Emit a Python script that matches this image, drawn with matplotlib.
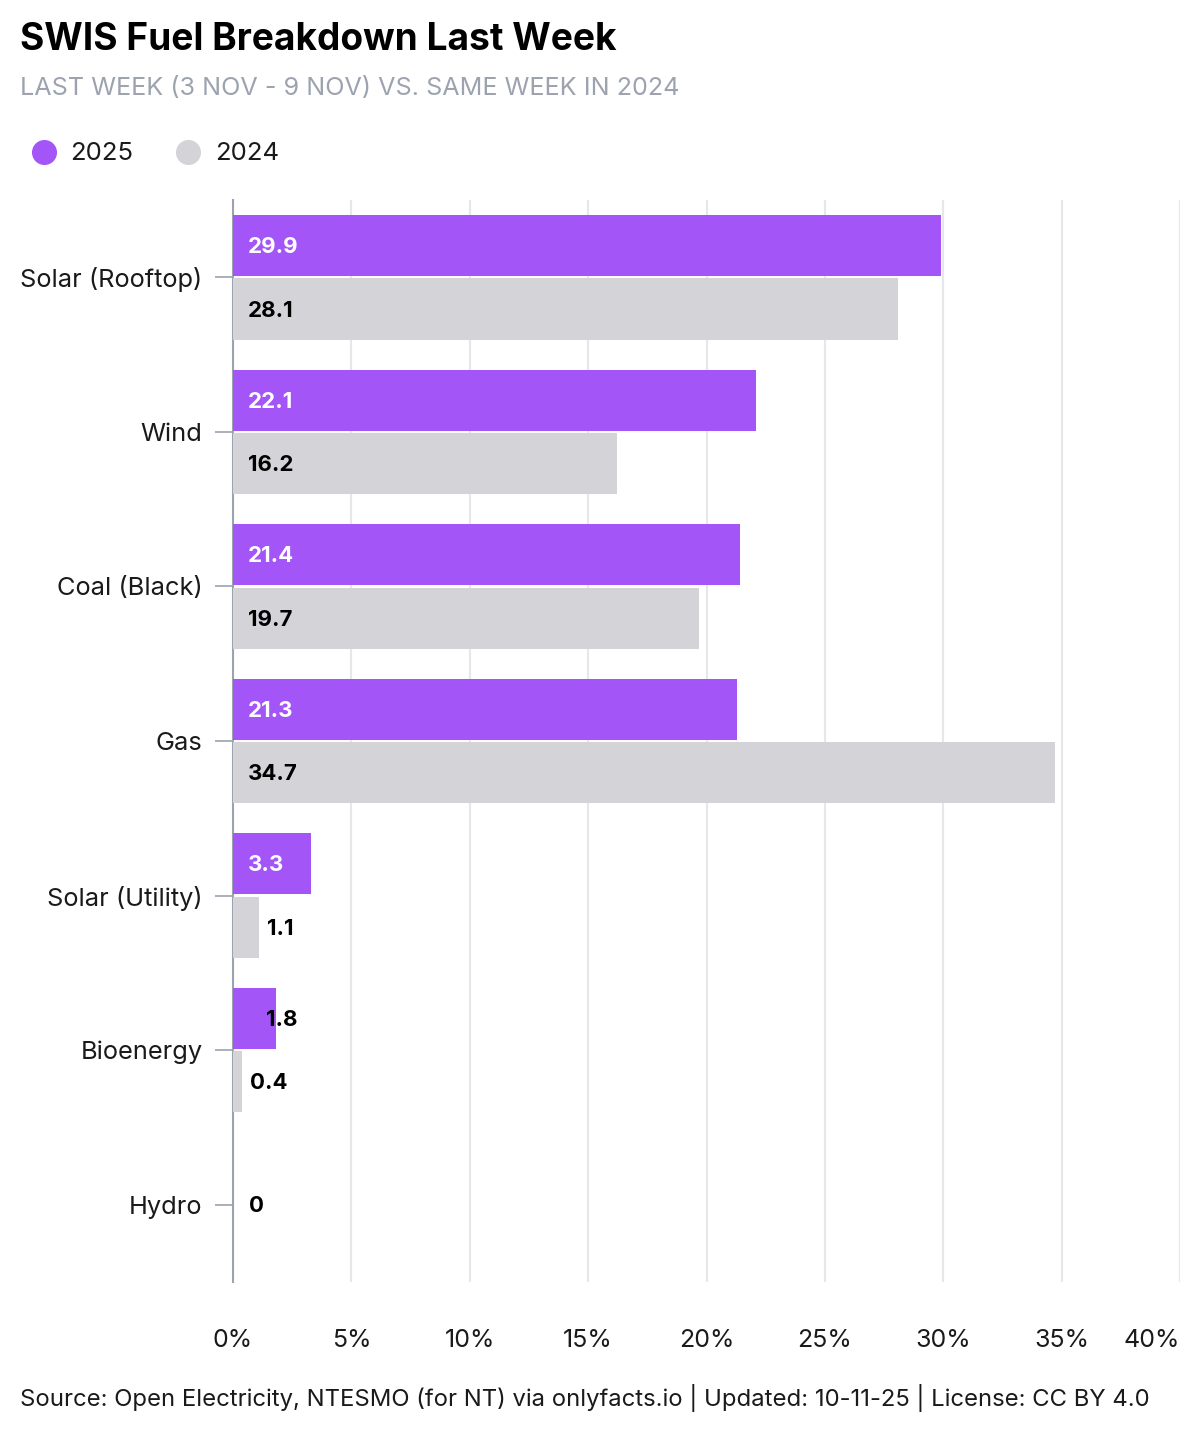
import matplotlib
matplotlib.use("Agg")
import matplotlib.pyplot as plt
from matplotlib.lines import Line2D
import numpy as np

plt.rcParams['font.family'] = ['Inter', 'DejaVu Sans']

# data
categories = ["Solar (Rooftop)", "Wind", "Coal (Black)", "Gas",
              "Solar (Utility)", "Bioenergy", "Hydro"]
vals_2025 = [29.9, 22.1, 21.4, 21.3, 3.3, 1.8, None]
vals_2024 = [28.1, 16.2, 19.7, 34.7, 1.1, 0.4, 0.0]
xticks = [0, 5, 10, 15, 20, 25, 30, 35, 40]
xtick_labels = ["0%", "5%", "10%", "15%", "20%", "25%", "30%", "35%", "40%"]

PURPLE = "#A455F7"
GREY = "#D4D4D8"
AXIS = "#9CA3AF"

fig = plt.figure(figsize=(12, 14.4), dpi=100)
ax = fig.add_axes([233 / 1200, 158 / 1440, 947 / 1200, 1082 / 1440])

y = np.arange(len(categories))
off, h = 0.205, 0.395
v25 = [v if v is not None else 0 for v in vals_2025]
ax.barh(y - off, v25, height=h, color=PURPLE, zorder=3)
ax.barh(y + off, vals_2024, height=h, color=GREY, zorder=3)

ax.set_xlim(0, 40)
ax.set_ylim(len(categories) - 0.5, -0.5)

# value labels
px = 40 / 947  # data units per pixel
for yy, v, col_in in [(y - off, vals_2025, "white"), (y + off, vals_2024, "black")]:
    for i, (yi, vi) in enumerate(zip(yy, v)):
        if vi is None:
            continue
        if vals_2025[i] is None:
            yi = y[i]  # single series -> label at category centre
        if vi >= 3:
            ax.text(15 * px, yi + 0.01, f"{vi:g}", color=col_in, fontsize=16,
                    fontweight="bold", va="center", ha="left", zorder=4)
        else:
            xpos = max(16 * px, vi + 8 * px) if vi < 1.5 else 33 * px
            ax.text(xpos, yi + 0.01, f"{vi:g}", color="black", fontsize=16,
                    fontweight="bold", va="center", ha="left", zorder=4)

# axes styling
for s in ["top", "right", "bottom"]:
    ax.spines[s].set_visible(False)
ax.spines["left"].set_color(AXIS)
ax.spines["left"].set_linewidth(1.5)
ax.set_yticks(y)
ax.set_yticklabels(categories, fontsize=18.3, color="#1a1a1a")
ax.tick_params(axis="y", length=13, width=1.2, color=AXIS, pad=9)
ax.set_xticks(xticks)
ax.set_xticklabels(xtick_labels, fontsize=18, color="#1a1a1a")
ax.get_xticklabels()[-1].set_ha("right")
ax.tick_params(axis="x", length=0, pad=34)
ax.grid(axis="x", color="#E5E7EB", linewidth=1.5, zorder=0)
ax.set_axisbelow(True)

# title / subtitle
fig.text(20 / 1200, 1 - 40 / 1440, "SWIS Fuel Breakdown Last Week",
         fontsize=26.7, fontweight="bold", color="black", va="center", ha="left")
fig.text(20 / 1200, 1 - 88 / 1440, "LAST WEEK (3 NOV - 9 NOV) VS. SAME WEEK IN 2024",
         fontsize=18.1, color="#9CA3AF", va="center", ha="left")

# legend
for cx, tx, col, lab in [(44, 70, PURPLE, "2025"), (188, 215, GREY, "2024")]:
    fig.add_artist(Line2D([cx / 1200], [1 - 152 / 1440], marker="o", markersize=17,
                          color=col, linestyle="none", transform=fig.transFigure))
    fig.text(tx / 1200, 1 - 154 / 1440, lab, fontsize=18.5, color="#1a1a1a",
             va="center", ha="left")

# source
fig.text(20 / 1200, 1 - 1398 / 1440,
         "Source: Open Electricity, NTESMO (for NT) via onlyfacts.io | Updated: 10-11-25 | License: CC BY 4.0",
         fontsize=17.2, color="#1a1a1a", va="center", ha="left")

fig.savefig("out.png", dpi=100, facecolor="white")
